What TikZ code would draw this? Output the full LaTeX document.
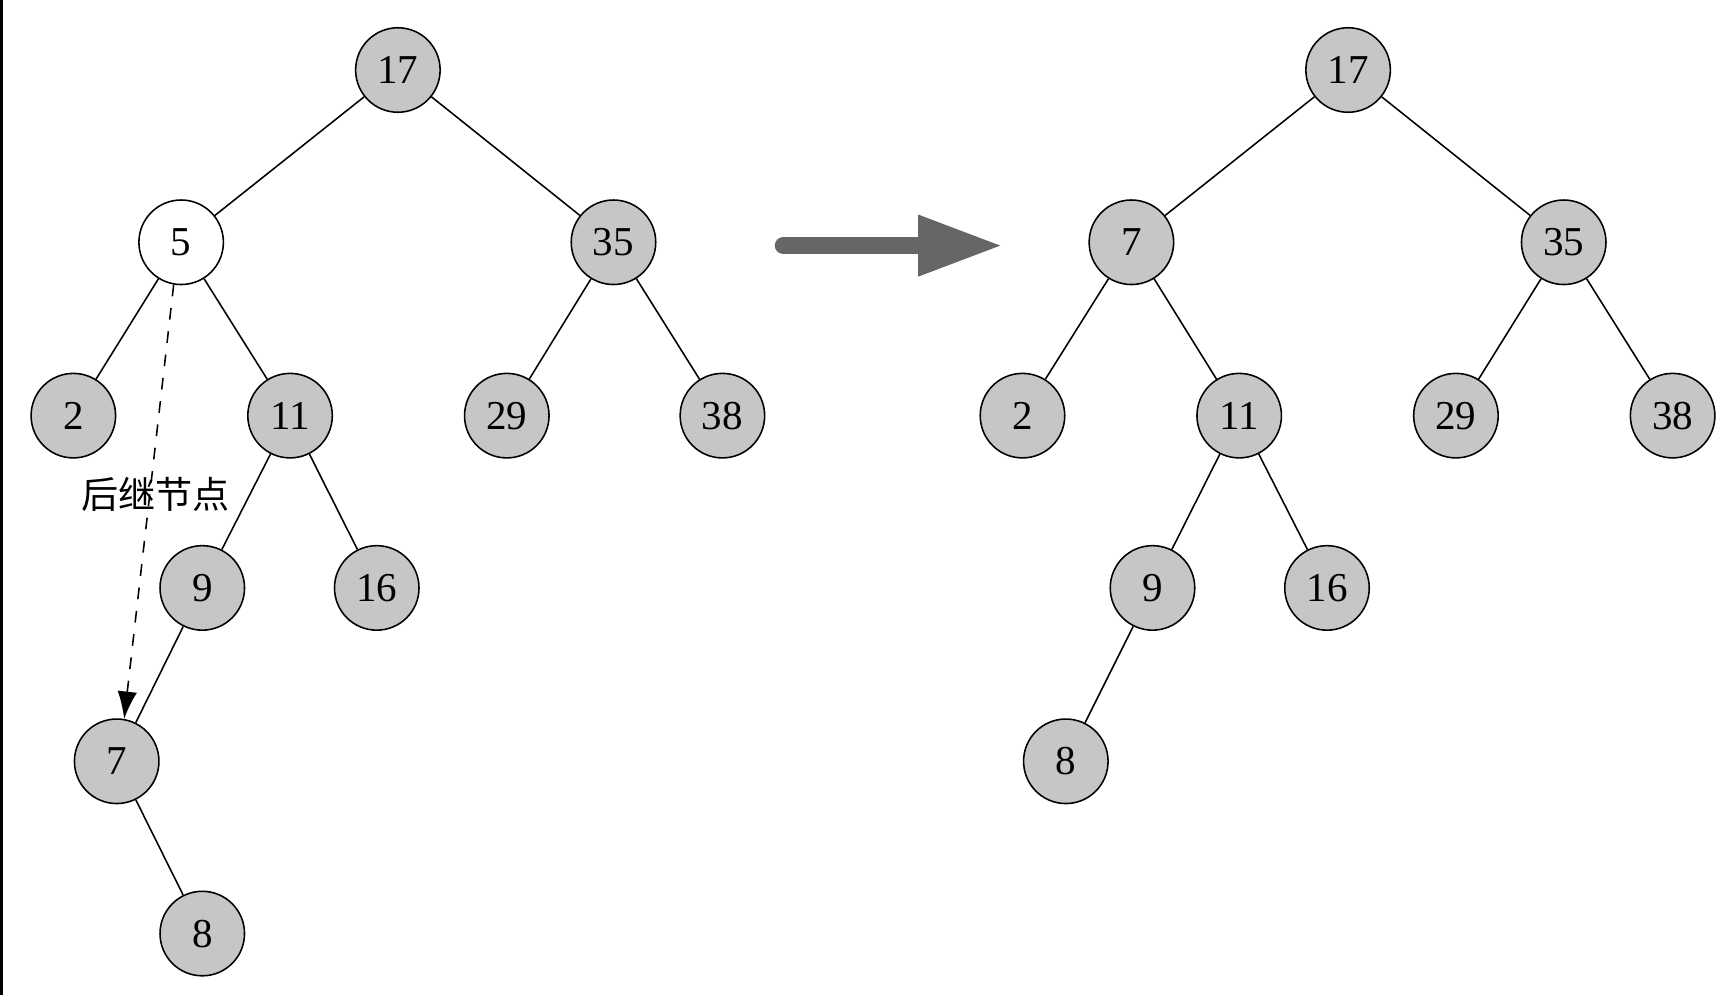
\documentclass[tikz,border=0pt]{standalone}
\usepackage{fontspec}
\setmainfont{Liberation Serif}
\newfontfamily\cjk{Noto Sans CJK SC}
\usetikzlibrary{arrows.meta}
\begin{document}
\begin{tikzpicture}[x=0.01cm,y=-0.01cm,
  nd/.style={circle,draw,fill=gray!45,minimum size=0.76cm,inner sep=0pt,font=\fontsize{10.5}{10.5}\selectfont},
  wn/.style={nd,fill=white}]
\useasboundingbox (0,0) rectangle (1562,895);
\draw[line width=0.8pt] (1,0) -- (1,895);
% left tree
\node[nd] (a17) at (358,63) {17};
\node[wn] (a5) at (163,218) {5};
\node[nd] (a35) at (552,218) {35};
\node[nd] (a2) at (66,374) {2};
\node[nd] (a11) at (261,374) {11};
\node[nd] (a29) at (456,374) {29};
\node[nd] (a38) at (650,374) {38};
\node[nd] (a9) at (182,529) {9};
\node[nd] (a16) at (339,529) {16};
\node[nd] (a7) at (105,685) {7};
\node[nd] (a8) at (182,840) {8};
\draw (a17)--(a5) (a17)--(a35) (a5)--(a2) (a5)--(a11) (a35)--(a29) (a35)--(a38)
  (a11)--(a9) (a11)--(a16) (a9)--(a7) (a7)--(a8);
\draw[dashed,-{Latex[length=7pt,width=5pt]}] (a5.260) -- (a7.80);
\node[font=\cjk\fontsize{9.5}{9.5}\selectfont,inner sep=1pt] (lbl) at (140,445) {后继节点};
% arrow
\coordinate (s) at (705,221);
\coordinate (e) at (900,221);
\draw[line width=4.5pt,gray!80!black,line cap=round] (s) -- (830,221);
\fill[gray!80!black] (826,193) -- (e) -- (826,249) -- cycle;
% right tree
\node[nd] (b17) at (1213,63) {17};
\node[nd] (b7) at (1018,218) {7};
\node[nd] (b35) at (1407,218) {35};
\node[nd] (b2) at (920,374) {2};
\node[nd] (b11) at (1115,374) {11};
\node[nd] (b29) at (1310,374) {29};
\node[nd] (b38) at (1505,374) {38};
\node[nd] (b9) at (1037,529) {9};
\node[nd] (b16) at (1194,529) {16};
\node[nd] (b8) at (959,685) {8};
\draw (b17)--(b7) (b17)--(b35) (b7)--(b2) (b7)--(b11) (b35)--(b29) (b35)--(b38)
  (b11)--(b9) (b11)--(b16) (b9)--(b8);
\end{tikzpicture}
\end{document}
